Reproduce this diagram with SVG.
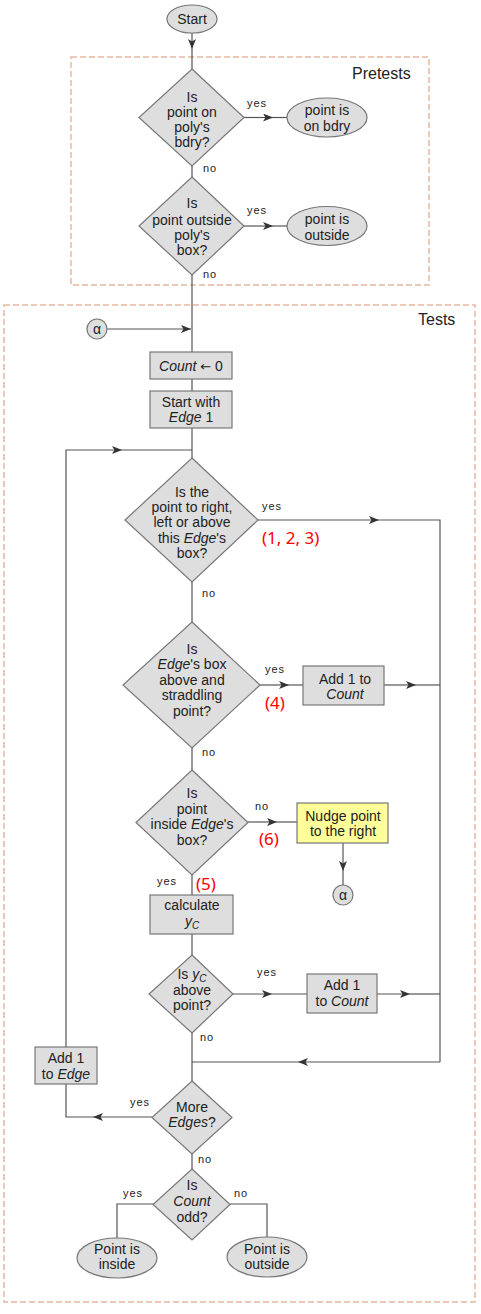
<svg xmlns="http://www.w3.org/2000/svg" width="481" height="1314" viewBox="0 0 481 1314">
<defs>
<marker id="arr" viewBox="0 0 10 8" refX="10" refY="4" markerWidth="10" markerHeight="8" markerUnits="userSpaceOnUse" orient="auto">
<path d="M0,0 L10,4 L0,8 L2.5,4 z" fill="#333"/>
</marker>
</defs>
<style>
.n{fill:#dedede;stroke:#777;stroke-width:1.2}
.y{fill:#ffff99;stroke:#777;stroke-width:1.2}
.c{fill:none;stroke:#555;stroke-width:1.2}
.a{fill:none;stroke:#555;stroke-width:1.2;marker-end:url(#arr)}
.t{font-family:"Liberation Sans",Arial,sans-serif;font-size:14px;fill:#222;text-anchor:middle}
.l{font-family:"Liberation Sans",Arial,sans-serif;font-size:11px;letter-spacing:1px;fill:#222}
.r{font-family:"Noto Sans","Open Sans",sans-serif;font-size:17px;fill:#f00}
.g{font-family:"Liberation Sans",Arial,sans-serif;font-size:16px;fill:#222}
.d{fill:none;stroke:#e3b9a0;stroke-width:1.5;stroke-dasharray:6,3}
</style>
<rect width="481" height="1314" fill="#fff"/>
<g id="pretests"><rect class="d" x="71" y="57" width="358" height="228"/><text class="g" x="352" y="79">Pretests</text></g>
<g id="tests"><rect class="d" x="4" y="305" width="471" height="997"/><text class="g" x="418" y="325">Tests</text></g>

<g id="connectors">
<path class="a" d="M192,32 V49"/><path class="c" d="M192,49 V69"/>
<path class="a" d="M244,117.5 H273"/><path class="c" d="M273,117.5 H287"/>
<path class="c" d="M192,166 V177"/>
<path class="a" d="M244,226 H273"/><path class="c" d="M273,226 H287"/>
<path class="c" d="M192,275 V352"/>
<path class="a" d="M107,329 H191"/>
<path class="c" d="M192,379 V391"/>
<path class="c" d="M192,428 V458"/>
<path class="a" d="M66,1047 V450 H122"/><path class="c" d="M122,450 H192"/>
<path class="a" d="M258,520 H379"/><path class="c" d="M379,520 H440 V1062"/>
<path class="c" d="M192,582 V622"/>
<path class="a" d="M260,685 H289"/><path class="c" d="M289,685 H303"/>
<path class="a" d="M384,685 H416"/><path class="c" d="M416,685 H440"/>
<path class="c" d="M192,748 V770"/>
<path class="a" d="M248,822 H277"/><path class="c" d="M277,822 H297"/>
<path class="a" d="M343,843 V871"/><path class="c" d="M343,871 V885"/>
<path class="c" d="M192,875 V895"/>
<path class="c" d="M192,934 V955"/>
<path class="a" d="M233,994 H272"/><path class="c" d="M272,994 H307"/>
<path class="a" d="M377,994 H410"/><path class="c" d="M410,994 H440"/>
<path class="a" d="M440,1062 H298"/><path class="c" d="M298,1062 H192"/>
<path class="c" d="M192,1033 V1081"/>
<path class="a" d="M152,1117 H93"/><path class="c" d="M93,1117 H66 V1084"/>
<path class="c" d="M192,1154 V1169"/>
<path class="c" d="M153,1204 H117 V1238"/>
<path class="c" d="M230,1204 H267 V1237"/>
</g>

<g id="labels">
<text class="l" x="247" y="107">yes</text>
<text class="l" x="203" y="172">no</text>
<text class="l" x="247" y="214">yes</text>
<text class="l" x="203" y="278">no</text>
<text class="l" x="262" y="510">yes</text>
<text class="l" x="202" y="597">no</text>
<text class="l" x="265" y="673">yes</text>
<text class="l" x="202" y="756">no</text>
<text class="l" x="255" y="810">no</text>
<text class="l" x="157" y="885">yes</text>
<text class="l" x="257" y="976">yes</text>
<text class="l" x="200" y="1041">no</text>
<text class="l" x="130" y="1106">yes</text>
<text class="l" x="198" y="1163">no</text>
<text class="l" x="123" y="1197">yes</text>
<text class="l" x="234" y="1197">no</text>
<text class="r" x="262" y="544">(1, 2, 3)</text>
<text class="r" x="265" y="709">(4)</text>
<text class="r" x="259" y="845">(6)</text>
<text class="r" x="196" y="890">(5)</text>
</g>

<g id="start"><ellipse class="n" cx="192" cy="19" rx="25" ry="14"/><text class="t" x="192" y="24">Start</text></g>
<g id="d1"><polygon class="n" points="192,69 244,117.5 192,166 139,117.5"/>
<text class="t" x="192" y="102">Is</text><text class="t" x="192" y="117">point on</text><text class="t" x="192" y="132">poly's</text><text class="t" x="192" y="147">bdry?</text></g>
<g id="onbdry"><ellipse class="n" cx="327" cy="117.5" rx="40" ry="19.5"/><text class="t" x="327" y="115">point is</text><text class="t" x="327" y="131">on bdry</text></g>
<g id="d2"><polygon class="n" points="192,177 244,226 192,275 139,226"/>
<text class="t" x="192" y="208">Is</text><text class="t" x="192" y="225">point outside</text><text class="t" x="192" y="240">poly's</text><text class="t" x="192" y="255">box?</text></g>
<g id="outside1"><ellipse class="n" cx="327" cy="226" rx="40" ry="19.5"/><text class="t" x="327" y="224">point is</text><text class="t" x="327" y="240">outside</text></g>
<g id="alpha1"><circle class="n" cx="97" cy="329" r="10"/><text class="t" x="97" y="334">α</text></g>
<g id="count0"><rect class="n" x="150" y="352" width="82" height="27"/><text class="t" x="191" y="371"><tspan font-style="italic">Count</tspan> <tspan font-family="DejaVu Sans" font-size="13">←</tspan> 0</text></g>
<g id="startedge"><rect class="n" x="150" y="391" width="82" height="37"/><text class="t" x="191" y="407">Start with</text><text class="t" x="191" y="422"><tspan font-style="italic">Edge</tspan> 1</text></g>
<g id="d3"><polygon class="n" points="192,458 258,520 192,582 125,520"/>
<text class="t" x="192" y="497">Is the</text><text class="t" x="192" y="512">point to right,</text><text class="t" x="192" y="527">left or above</text><text class="t" x="192" y="543">this <tspan font-style="italic">Edge</tspan>'s</text><text class="t" x="192" y="558">box?</text></g>
<g id="d4"><polygon class="n" points="192,622 260,685 192,748 123,685"/>
<text class="t" x="192" y="654">Is</text><text class="t" x="192" y="669"><tspan font-style="italic">Edge</tspan>'s box</text><text class="t" x="192" y="685">above and</text><text class="t" x="192" y="700">straddling</text><text class="t" x="192" y="716">point?</text></g>
<g id="add1"><rect class="n" x="303" y="666" width="81" height="39"/><text class="t" x="345" y="684">Add 1 to</text><text class="t" x="345" y="699" font-style="italic">Count</text></g>
<g id="d5"><polygon class="n" points="192,770 248,822.5 192,875 136,822.5"/>
<text class="t" x="192" y="798">Is</text><text class="t" x="192" y="814">point</text><text class="t" x="192" y="829">inside <tspan font-style="italic">Edge</tspan>'s</text><text class="t" x="192" y="845">box?</text></g>
<g id="nudge"><rect class="y" x="297" y="803" width="91" height="40"/><text class="t" x="343" y="821">Nudge point</text><text class="t" x="343" y="836">to the right</text></g>
<g id="alpha2"><circle class="n" cx="343" cy="895" r="10"/><text class="t" x="343" y="900">α</text></g>
<g id="calc"><rect class="n" x="150" y="895" width="83" height="39"/><text class="t" x="192" y="910">calculate</text><text class="t" x="192" y="926" font-style="italic">y<tspan font-size="10" dy="3">C</tspan></text></g>
<g id="d6"><polygon class="n" points="192,955 233,994 192,1033 149,994"/>
<text class="t" x="192" y="979">Is <tspan font-style="italic">y</tspan><tspan font-style="italic" font-size="10" dy="3">C</tspan></text><text class="t" x="192" y="995">above</text><text class="t" x="192" y="1010">point?</text></g>
<g id="add2"><rect class="n" x="307" y="974" width="70" height="39"/><text class="t" x="342" y="990">Add 1</text><text class="t" x="342" y="1006">to <tspan font-style="italic">Count</tspan></text></g>
<g id="addedge"><rect class="n" x="35" y="1047" width="62" height="37"/><text class="t" x="66" y="1063">Add 1</text><text class="t" x="66" y="1079">to <tspan font-style="italic">Edge</tspan></text></g>
<g id="d7"><polygon class="n" points="192,1081 232,1117.5 192,1154 152,1117.5"/>
<text class="t" x="192" y="1112">More</text><text class="t" x="192" y="1127"><tspan font-style="italic">Edges</tspan>?</text></g>
<g id="d8"><polygon class="n" points="192,1169 230,1204.5 192,1240 153,1204.5"/>
<text class="t" x="192" y="1190">Is</text><text class="t" x="192" y="1206" font-style="italic">Count</text><text class="t" x="192" y="1222">odd?</text></g>
<g id="inside"><ellipse class="n" cx="117" cy="1258" rx="40" ry="20"/><text class="t" x="117" y="1254">Point is</text><text class="t" x="117" y="1269">inside</text></g>
<g id="outside2"><ellipse class="n" cx="267" cy="1257" rx="40" ry="20"/><text class="t" x="267" y="1254">Point is</text><text class="t" x="267" y="1269">outside</text></g>
</svg>
